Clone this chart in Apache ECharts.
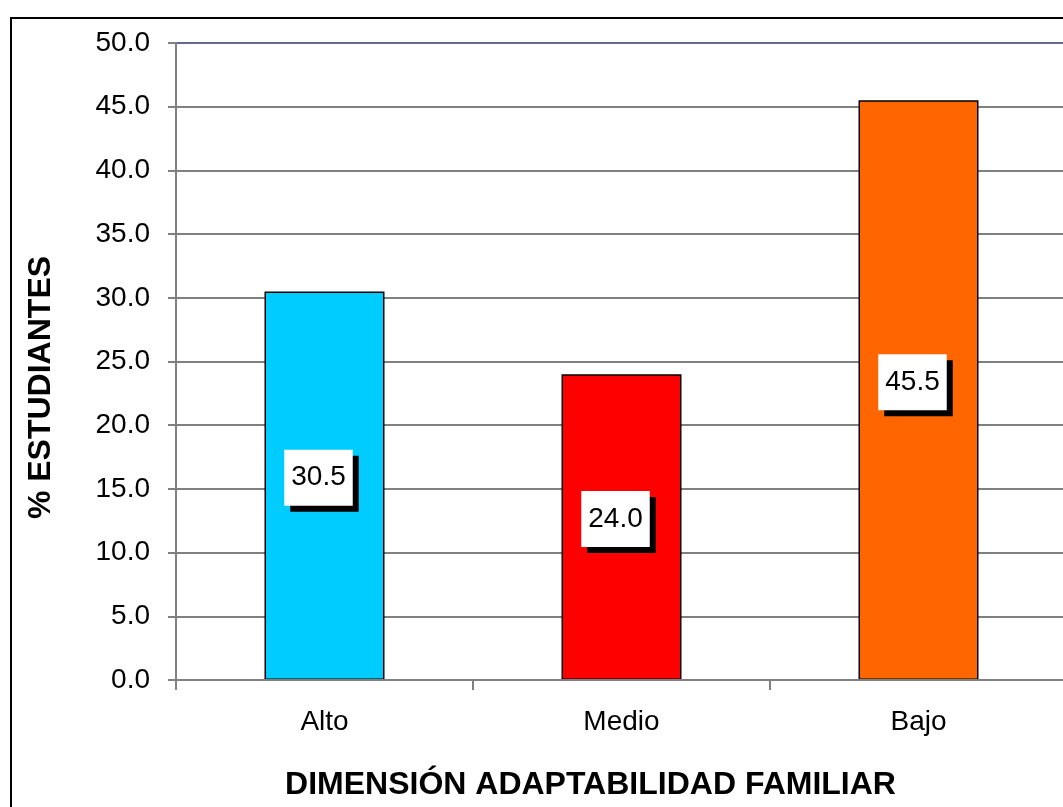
<!DOCTYPE html>
<html>
<head>
    <meta charset="utf-8">
    <script src="https://cdn.jsdelivr.net/npm/echarts@6/dist/echarts.min.js"></script>
    <style>
        body{
            margin:0;
            padding:0;
            background:#fff;
        }
    </style>
</head>
<body>
<div id="main" style="width:1063px;height:807px;"></div>
<script type="text/javascript">
var myChart = echarts.init(document.getElementById('main'));

// datos
let categorias = ['Alto', 'Medio', 'Bajo'];
let porcentajes = [30.5, 24.0, 45.5];
let colores = ['#00CCFF', '#FF0000', '#FF6600'];
let yMin = 0, yMax = 50, yPaso = 5;

let fuente = 'Arial, "Liberation Sans", sans-serif';

// color de las lineas de la grilla (la de arriba es azulada)
let gridColores = [];
for (let v = yMin; v <= yMax; v += yPaso) {
  gridColores.push(v === yMax ? '#666699' : '#808080');
}

option = {
  animation: false,
  backgroundColor: '#fff',
  graphic: [
    {
      type: 'rect',
      shape: { x: 11, y: 18, width: 1100, height: 850 },
      style: { fill: 'none', stroke: '#000', lineWidth: 2 },
      z: 100
    }
  ],
  grid: {
    left: 176,
    top: 43,
    width: 891,
    height: 637,
    containLabel: false,
    outerBoundsMode: 'none'
  },
  xAxis: {
    type: 'category',
    data: categorias,
    axisLine: { lineStyle: { color: '#808080', width: 2 } },
    axisTick: { show: true, length: 10, lineStyle: { color: '#808080', width: 2 } },
    axisLabel: {
      margin: 28,
      fontSize: 28,
      color: '#000',
      fontFamily: fuente
    },
    name: 'DIMENSIÓN ADAPTABILIDAD FAMILIAR',
    nameLocation: 'middle',
    nameGap: 89,
    nameTextStyle: {
      fontSize: 32,
      fontWeight: 'bold',
      color: '#000',
      fontFamily: fuente,
      padding: [0, 62, 0, 0]
    },
    z: 10
  },
  yAxis: {
    type: 'value',
    min: yMin,
    max: yMax,
    interval: yPaso,
    axisLine: { show: true, lineStyle: { color: '#808080', width: 2 } },
    axisTick: { show: true, length: 8, lineStyle: { color: '#808080', width: 2 } },
    axisLabel: {
      margin: 26,
      fontSize: 28,
      color: '#000',
      fontFamily: fuente,
      formatter: function (v) { return v.toFixed(1); }
    },
    splitLine: { lineStyle: { color: gridColores, width: 2 } },
    name: '% ESTUDIANTES',
    nameLocation: 'middle',
    nameGap: 119,
    nameTextStyle: {
      fontSize: 32,
      fontWeight: 'bold',
      color: '#000',
      fontFamily: fuente,
      padding: [0, 52, 0, 0]
    }
  },
  series: [
    {
      type: 'bar',
      barWidth: 120,
      data: porcentajes.map(function (v, i) {
        return { value: v, itemStyle: { color: colores[i] } };
      }),
      itemStyle: {
        borderColor: '#000',
        borderWidth: 1.5
      },
      label: {
        show: true,
        position: 'inside',
        offset: [-6, -8],
        formatter: function (p) { return p.value.toFixed(1); },
        fontSize: 28,
        lineHeight: 28,
        color: '#000',
        fontFamily: fuente,
        backgroundColor: '#fff',
        padding: [14, 7, 14, 7],
        shadowColor: '#000',
        shadowBlur: 0,
        shadowOffsetX: 6,
        shadowOffsetY: 6
      }
    }
  ]
};
myChart.setOption(option);
</script>
</body>
</html>
